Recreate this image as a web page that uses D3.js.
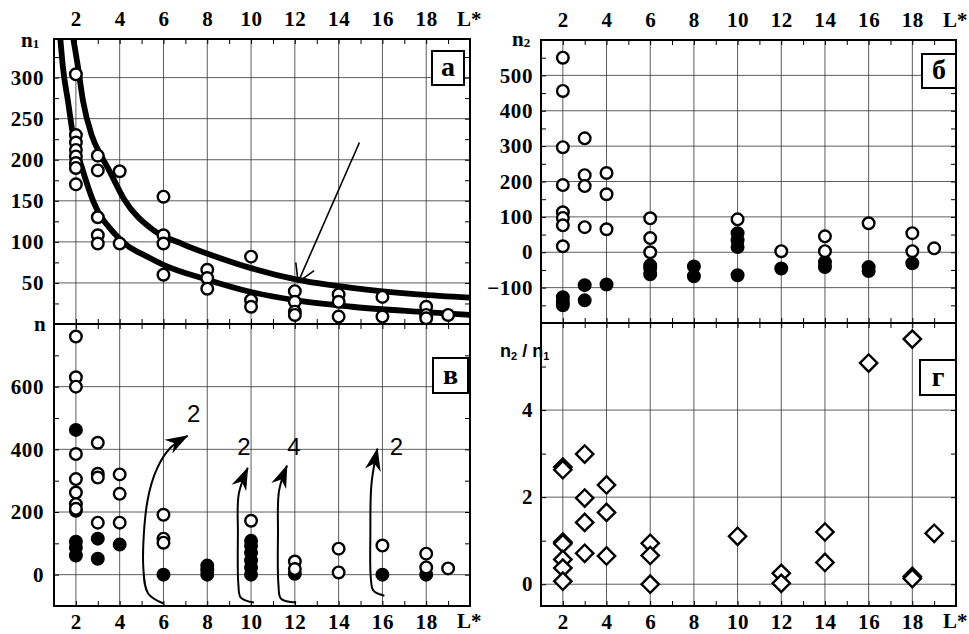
<!DOCTYPE html>
<html>
<head>
<meta charset="utf-8">
<script src="https://cdn.jsdelivr.net/npm/d3@7"></script>
<style>
  body { margin: 0; background: #fff; }
  text { font-family: "Liberation Serif", "Times New Roman", serif; font-weight: bold; fill: #000; }
  .tick text { font-size: 21px; letter-spacing: 0.6px; }
  .tick line { stroke: #000; }
  .sans { font-family: "Liberation Sans", Arial, sans-serif; }
</style>
</head>
<body>
<svg id="chart" width="969" height="634"></svg>
<script>
// ---- data ----
const xDomain = [1, 20]
const xMajor = [2, 4, 6, 8, 10, 12, 14, 16, 18]
const xMinor = d3.range(1, 21)

const n1Ticks = [50, 100, 150, 200, 250, 300]
const nTicks = [0, 200, 400, 600]
const n2Ticks = [-100, 0, 100, 200, 300, 400, 500]
const ratioTicks = [0, 2, 4]

// panel а : n1, open circles, [L*, n1]
const n1Open = [
  [2, 304], [2, 230], [2, 221], [2, 212], [2, 204], [2, 196], [2, 190], [2, 170],
  [3, 205], [3, 187], [3, 130], [3, 108], [3, 98],
  [4, 186], [4, 98],
  [6, 155], [6, 108], [6, 98], [6, 60],
  [8, 66], [8, 56], [8, 43],
  [10, 82], [10, 29], [10, 21],
  [12, 40], [12, 27], [12, 15], [12, 11],
  [14, 36], [14, 27], [14, 9],
  [16, 33], [16, 9],
  [18, 21], [18, 11], [18, 7],
  [19, 11]
]
// the two fitted curves of panel а
const n1CurveUpper = [
  [1.8, 360], [2.1, 312], [2.33, 271], [2.72, 230], [3.15, 205], [3.5, 188], [4.2, 152],
  [5.5, 115], [6.9, 97], [8.5, 81], [10, 68], [12.1, 54], [14.6, 44], [17.6, 36], [20, 32]
]
const n1CurveLower = [
  [1.25, 360], [1.41, 312], [1.64, 271], [1.87, 230], [2.28, 190], [2.8, 149], [3.8, 109],
  [5.4, 80], [6, 72], [8, 54], [10, 39], [12, 29], [14.6, 21], [17.6, 15], [20, 11]
]
const n1Pointer = [[14.95, 221], [12.15, 51]]

// panel б : n2
const n2Open = [
  [2, 550], [2, 456], [2, 297], [2, 190], [2, 113], [2, 97], [2, 76], [2, 17],
  [3, 322], [3, 218], [3, 187], [3, 71],
  [4, 224], [4, 164], [4, 65],
  [6, 96], [6, 40], [6, 0],
  [10, 93],
  [12, 3],
  [14, 45], [14, 3],
  [16, 82],
  [18, 54], [18, 3],
  [19, 11]
]
const n2Filled = [
  [2, -127], [2, -140], [2, -150],
  [3, -93], [3, -136],
  [4, -91],
  [6, -37], [6, -45], [6, -62],
  [8, -40], [8, -68],
  [10, 54], [10, 34], [10, 15], [10, -65],
  [12, -46],
  [14, -28], [14, -42],
  [16, -42], [16, -53],
  [18, -31]
]

// panel в : n
const nOpen = [
  [2, 760], [2, 630], [2, 600], [2, 385], [2, 305], [2, 262], [2, 225], [2, 210],
  [3, 421], [3, 322], [3, 310], [3, 166],
  [4, 320], [4, 258], [4, 166],
  [6, 191], [6, 115], [6, 102],
  [10, 172],
  [12, 42], [12, 18],
  [14, 83], [14, 7],
  [16, 93],
  [18, 67], [18, 23],
  [19, 20]
]
const nFilled = [
  [2, 462], [2, 204], [2, 105], [2, 86], [2, 61],
  [3, 115], [3, 51],
  [4, 96],
  [6, 0],
  [8, 29], [8, 14], [8, 0],
  [10, 108], [10, 92], [10, 70], [10, 45], [10, 22], [10, 0],
  [12, 3],
  [16, 0],
  [18, 0]
]
const nArrows = [
  [[6.0, -92], [5.3, -60], [5.08, 22], [5.27, 236], [5.72, 341], [6.32, 405], [7.1, 443]],
  [[10.13, -89], [9.53, -73], [9.42, -30], [9.4, 131], [9.44, 258], [9.85, 341]],
  [[12.06, -89], [11.37, -77], [11.25, -30], [11.23, 131], [11.28, 268], [11.64, 348]],
  [[16.09, -67], [15.59, -51], [15.47, -10], [15.45, 131], [15.5, 290], [15.77, 402]]
]
const nArrowLabels = [[7.38, 517, '2'], [9.67, 411, '2'], [11.96, 411, '4'], [16.64, 411, '2']]

// panel г : n2 / n1
const ratio = [
  [2, 2.69], [2, 2.63], [2, 0.97], [2, 0.93], [2, 0.57], [2, 0.37], [2, 0.07],
  [3, 2.99], [3, 1.98], [3, 1.42], [3, 0.71],
  [4, 2.28], [4, 1.65], [4, 0.65],
  [6, 0.94], [6, 0.66], [6, 0.0],
  [10, 1.10],
  [12, 0.25], [12, 0.02],
  [14, 1.2], [14, 0.5],
  [16, 5.08],
  [18, 5.63], [18, 0.18], [18, 0.13],
  [19, 1.17]
]

// ---- layout ----
const svg = d3.select('#chart')
const defs = svg.append('defs')

defs.append('marker')
  .attr('id', 'barb')
  .attr('viewBox', '-24 -10 26 20')
  .attr('refX', 0).attr('refY', 0)
  .attr('markerWidth', 26).attr('markerHeight', 20)
  .attr('markerUnits', 'userSpaceOnUse')
  .attr('orient', 'auto')
  .append('path')
  .attr('d', 'M1,0 L-22,-8 L-15,0 L-22,8 Z')
  .attr('fill', '#000')

defs.append('marker')
  .attr('id', 'vhead')
  .attr('viewBox', '-20 -12 22 24')
  .attr('refX', 0).attr('refY', 0)
  .attr('markerWidth', 22).attr('markerHeight', 24)
  .attr('markerUnits', 'userSpaceOnUse')
  .attr('orient', 'auto')
  .append('path')
  .attr('d', 'M-17,-10 L0,0 L-17,10')
  .attr('fill', 'none')
  .attr('stroke', '#000')
  .attr('stroke-width', 1.6)

function makePanel (p) {
  const x = d3.scaleLinear().domain(xDomain).range([p.left, p.right])
  const y = d3.scaleLinear().domain(p.yDomain).range([p.bottom, p.top])
  const g = svg.append('g')

  defs.append('clipPath').attr('id', 'clip-' + p.key)
    .append('rect')
    .attr('x', p.left).attr('y', p.top)
    .attr('width', p.right - p.left).attr('height', p.bottom - p.top)

  // grid
  g.append('g')
    .selectAll('line')
    .data(xMajor)
    .join('line')
    .attr('x1', d => x(d)).attr('x2', d => x(d))
    .attr('y1', p.top).attr('y2', p.bottom)
    .attr('stroke', '#333').attr('stroke-width', 0.8)
  g.append('g')
    .selectAll('line')
    .data(p.major)
    .join('line')
    .attr('x1', p.left).attr('x2', p.right)
    .attr('y1', d => y(d)).attr('y2', d => y(d))
    .attr('stroke', '#333').attr('stroke-width', 0.8)

  // inner ticks on all four sides
  const tickAxes = [
    g.append('g').attr('transform', `translate(0,${p.top})`).call(d3.axisTop(x).tickValues(xMinor).tickSize(-5).tickFormat('')),
    g.append('g').attr('transform', `translate(0,${p.bottom})`).call(d3.axisBottom(x).tickValues(xMinor).tickSize(-5).tickFormat('')),
    g.append('g').attr('transform', `translate(${p.left},0)`).call(d3.axisLeft(y).tickValues(p.minor).tickSize(-5).tickFormat('')),
    g.append('g').attr('transform', `translate(${p.right},0)`).call(d3.axisRight(y).tickValues(p.minor).tickSize(-5).tickFormat(''))
  ]
  tickAxes.forEach(a => a.select('.domain').remove())

  // labels
  const yAxis = g.append('g')
    .attr('transform', `translate(${p.left},0)`)
    .call(d3.axisLeft(y).tickValues(p.labels).tickSize(0).tickPadding(p.labelPad).tickFormat(d3.format('d')))
  yAxis.select('.domain').remove()

  if (p.xLabels === 'top') {
    const a = g.append('g')
      .attr('transform', `translate(0,${p.top})`)
      .call(d3.axisTop(x).tickValues(xMajor).tickSize(0).tickPadding(13))
    a.select('.domain').remove()
    g.append('text').attr('x', p.right - 13).attr('y', p.top - 13)
      .style('font-size', '21px').text('L*')
  } else {
    const a = g.append('g')
      .attr('transform', `translate(0,${p.bottom})`)
      .call(d3.axisBottom(x).tickValues(xMajor).tickSize(0).tickPadding(8))
    a.select('.domain').remove()
    g.append('text').attr('x', p.right - 13).attr('y', p.bottom + 22)
      .style('font-size', '21px').text('L*')
  }

  // frame
  g.append('rect')
    .attr('x', p.left).attr('y', p.top)
    .attr('width', p.right - p.left).attr('height', p.bottom - p.top)
    .attr('fill', 'none').attr('stroke', '#000').attr('stroke-width', 2)

  // letter box
  g.append('rect')
    .attr('x', p.box[0]).attr('y', p.box[1])
    .attr('width', p.box[2]).attr('height', p.box[3])
    .attr('fill', '#fff').attr('stroke', '#000').attr('stroke-width', 2)
  g.append('text')
    .attr('x', p.box[0] + p.box[2] / 2).attr('y', p.box[1] + p.box[3] - 9)
    .attr('text-anchor', 'middle')
    .style('font-size', '28px')
    .text(p.letter)

  const plot = svg.append('g').attr('clip-path', `url(#clip-${p.key})`)
  return { x, y, g, plot }
}

const circleMarks = (panel, data, fill) =>
  panel.plot.append('g')
    .selectAll('circle')
    .data(data)
    .join('circle')
    .attr('cx', d => panel.x(d[0]))
    .attr('cy', d => panel.y(d[1]))
    .attr('r', 5.8)
    .attr('fill', fill)
    .attr('stroke', '#000')
    .attr('stroke-width', 2.4)

// ---- panel а ----
const pa = makePanel({
  key: 'a', left: 54, right: 470, top: 39, bottom: 324, yDomain: [0, 347],
  major: n1Ticks, minor: d3.range(25, 347, 25), labels: n1Ticks, labelPad: 10,
  xLabels: 'top', box: [432, 51, 32, 34], letter: 'а'
})
const curveLine = d3.line().x(d => pa.x(d[0])).y(d => pa.y(d[1])).curve(d3.curveMonotoneX)
pa.plot.append('g')
  .selectAll('path')
  .data([n1CurveUpper, n1CurveLower])
  .join('path')
  .attr('d', curveLine)
  .attr('fill', 'none').attr('stroke', '#000').attr('stroke-width', 5.8)
circleMarks(pa, n1Open, '#fff')
svg.append('path')
  .attr('d', d3.line().x(d => pa.x(d[0])).y(d => pa.y(d[1]))(n1Pointer))
  .attr('stroke', '#000').attr('stroke-width', 1.6).attr('fill', 'none')
  .attr('marker-end', 'url(#vhead)')
svg.append('text').attr('x', 21).attr('y', 47).style('font-size', '21px')
  .text('n').append('tspan').attr('dy', 1).style('font-size', '13px').text('1')
svg.append('text').attr('x', 34).attr('y', 331).style('font-size', '21px').text('n')

// ---- panel в ----
const pv = makePanel({
  key: 'v', left: 54, right: 470, top: 324, bottom: 606, yDomain: [-100, 800],
  major: nTicks, minor: d3.range(-100, 800, 100), labels: nTicks, labelPad: 10,
  xLabels: 'bottom', box: [433, 358, 35, 35], letter: 'в'
})
const arrowLine = d3.line().x(d => pv.x(d[0])).y(d => pv.y(d[1])).curve(d3.curveCatmullRom.alpha(0.5))
svg.append('g')
  .selectAll('path')
  .data(nArrows)
  .join('path')
  .attr('d', arrowLine)
  .attr('fill', 'none').attr('stroke', '#000').attr('stroke-width', 2)
  .attr('marker-end', 'url(#barb)')
svg.append('g')
  .selectAll('text')
  .data(nArrowLabels)
  .join('text')
  .attr('class', 'sans')
  .attr('x', d => pv.x(d[0])).attr('y', d => pv.y(d[1]) + 9)
  .attr('text-anchor', 'middle')
  .style('font-size', '24px').style('font-weight', 'normal')
  .text(d => d[2])
circleMarks(pv, nFilled, '#000')
circleMarks(pv, nOpen, '#fff')

// ---- panel б ----
const pb = makePanel({
  key: 'b', left: 541, right: 956, top: 40, bottom: 323, yDomain: [-200, 600],
  major: n2Ticks, minor: d3.range(-150, 600, 50), labels: n2Ticks, labelPad: 8,
  xLabels: 'top', box: [922, 54, 34, 34], letter: 'б'
})
circleMarks(pb, n2Filled, '#000')
circleMarks(pb, n2Open, '#fff')
svg.append('text').attr('x', 512).attr('y', 46).style('font-size', '21px')
  .text('n').append('tspan').attr('dy', 1).style('font-size', '13px').text('2')

// ---- panel г ----
const pg = makePanel({
  key: 'g', left: 541, right: 956, top: 323, bottom: 606, yDomain: [-0.5, 6],
  major: ratioTicks, minor: d3.range(0, 6, 1), labels: ratioTicks, labelPad: 8,
  xLabels: 'bottom', box: [920, 360, 36, 35], letter: 'г'
})
pg.plot.append('g')
  .selectAll('path')
  .data(ratio)
  .join('path')
  .attr('d', d3.symbol(d3.symbolSquare, 150))
  .attr('transform', d => `translate(${pg.x(d[0])},${pg.y(d[1])}) rotate(45)`)
  .attr('fill', '#fff').attr('stroke', '#000').attr('stroke-width', 2.4)
const rl = svg.append('text').attr('class', 'sans').attr('x', 500).attr('y', 357).style('font-size', '18px')
rl.append('tspan').text('n')
rl.append('tspan').attr('dy', 3).style('font-size', '11px').text('2')
rl.append('tspan').attr('dy', -3).text(' / n')
rl.append('tspan').attr('dy', 3).style('font-size', '11px').text('1')
</script>
</body>
</html>
